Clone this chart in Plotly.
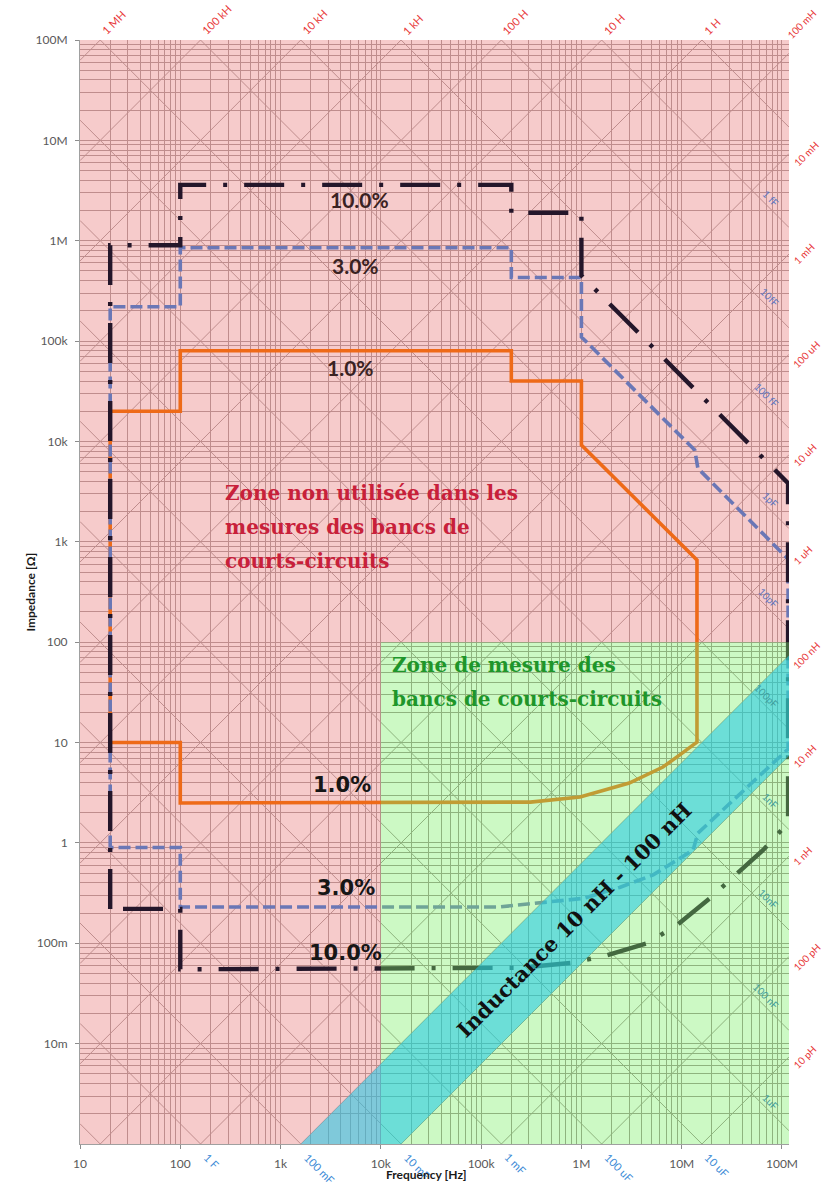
import math
import plotly.graph_objects as go

# ---------------- axes ----------------
X_LOG_RANGE = [1.0, 8.07]
Y_LOG_RANGE = [-3.0, 8.0]
F_MIN = 10 ** X_LOG_RANGE[0]
F_EDGE = 10 ** X_LOG_RANGE[1]
Z_MIN = 10 ** Y_LOG_RANGE[0]
Z_MAX = 10 ** Y_LOG_RANGE[1]

X_TICK_VALS = [1e1, 1e2, 1e3, 1e4, 1e5, 1e6, 1e7, 1e8]
X_TICK_TEXT = ["10", "100", "1k", "10k", "100k", "1M", "10M", "100M"]
Y_TICK_VALS = [1e8, 1e7, 1e6, 1e5, 1e4, 1e3, 1e2, 1e1, 1, 1e-1, 1e-2]
Y_TICK_TEXT = ["100M", "10M", "1M", "100k", "10k", "1k", "100", "10", "1", "100m", "10m"]

# ---------------- accuracy contours (Hz, Ohm) ----------------
F_1PCT = [20, 20, 100, 100, 2.0e5, 2.0e5, 1.0e6, 1.0e6, 1.42e7, 1.42e7, 9.5e6, 6.5e6,
          3.0e6, 9.7e5, 3.1e5, 100, 100, 20]
Z_1PCT = [10, 2.0e4, 2.0e4, 8.0e4, 8.0e4, 4.0e4, 4.0e4, 9.2e3, 660, 10.1, 7.5, 5.7,
          3.95, 2.87, 2.55, 2.5, 10, 10]

F_3PCT = [20, 20, 100, 100, 2.0e5, 2.0e5, 1.0e6, 1.0e6, 1.35e7, 1.45e7, 1.15e8, 1.15e8,
          1.45e7, 1.3e7, 5.2e6, 2.4e6, 1.04e6, 1.5e5, 100, 100, 20]
Z_3PCT = [0.9, 2.2e5, 2.2e5, 8.5e5, 8.5e5, 4.3e5, 4.3e5, 1.1e5, 8.2e3, 5.4e3, 675, 8.6,
          1.25, 0.85, 0.48, 0.36, 0.28, 0.23, 0.23, 0.9, 0.9]

F_10PCT = [20, 20, 100, 100, 2.0e5, 2.0e5, 1.0e6, 1.0e6, 1.15e8, 1.15e8, 6.5e7, 3.2e7,
           1.9e7, 9.0e6, 4.5e6, 1.8e6, 8.2e5, 2.4e5, 100, 100, 20]
Z_10PCT = [0.22, 9.0e5, 9.0e5, 3.6e6, 3.6e6, 1.9e6, 1.9e6, 4.5e5, 3.84e3, 1.58, 0.85, 0.45,
           0.28, 0.152, 0.10, 0.076, 0.064, 0.057, 0.055, 0.22, 0.22]

# ---------------- zones ----------------
MEAS_ZONE_F = [1e4, F_EDGE]     # measurement zone: f >= 10 kHz
MEAS_ZONE_Z = [Z_MIN, 100]      # and |Z| <= 100 Ohm
BAND_L = [10e-9, 100e-9]        # inductance band 10 nH - 100 nH

# ---------------- iso L / iso C reference lines ----------------
L_LINES = [10.0 ** k for k in range(-12, 7)]
C_LINES = [10.0 ** k for k in range(-17, 2)]

L_TOP_VALS = [1e6, 1e5, 1e4, 1e3, 1e2, 1e1, 1, 0.1]
L_TOP_TEXT = ["1 MH", "100 kH", "10 kH", "1 kH", "100 H", "10 H", "1 H", "100 mH"]
L_RIGHT_VALS = [1e-2, 1e-3, 1e-4, 1e-5, 1e-6, 1e-7, 1e-8, 1e-9, 1e-10, 1e-11]
L_RIGHT_TEXT = ["10 mH", "1 mH", "100 uH", "10 uH", "1 uH", "100 nH", "10 nH", "1 nH", "100 pH", "10 pH"]
C_BOTTOM_VALS = [1, 0.1, 0.01, 1e-3, 1e-4, 1e-5]
C_BOTTOM_TEXT = ["1 F", "100 mF", "10 mF", "1 mF", "100 uF", "10 uF"]
C_RIGHT_VALS = [1e-15, 1e-14, 1e-13, 1e-12, 1e-11, 1e-10, 1e-9, 1e-8, 1e-7, 1e-6]
C_RIGHT_TEXT = ["1 fF", "10fF", "100 fF", "1pF", "10pF", "100pF", "1nF", "10nF", "100 nF", "1uF"]

# ---------------- styles ----------------
GRID = "rgb(155,142,142)"
PINK = "rgba(236,140,140,0.45)"
GREEN = "rgba(120,240,100,0.38)"
BAND = "rgba(30,200,232,0.55)"
ORANGE = "#EE6A18"
BLUE = "#6A77B6"
DARK = "#24162A"
TWO_PI = 2 * math.pi


def z_ind(f, L):
    return TWO_PI * f * L


def z_cap(f, C):
    return 1.0 / (TWO_PI * f * C)


fig = go.Figure()

# iso-inductance and iso-capacitance lines
lx, ly = [], []
for L in L_LINES:
    lx += [F_MIN, F_EDGE, None]
    ly += [z_ind(F_MIN, L), z_ind(F_EDGE, L), None]
cx, cy = [], []
for C in C_LINES:
    cx += [F_MIN, F_EDGE, None]
    cy += [z_cap(F_MIN, C), z_cap(F_EDGE, C), None]
for xs, ys in ((lx, ly), (cx, cy)):
    fig.add_trace(go.Scatter(x=xs, y=ys, mode="lines", line=dict(color=GRID, width=1),
                             hoverinfo="skip", showlegend=False))

# pink "unused" zone (everything outside the measurement zone)
fig.add_trace(go.Scatter(
    x=[F_MIN, MEAS_ZONE_F[0], MEAS_ZONE_F[0], MEAS_ZONE_F[1], MEAS_ZONE_F[1], F_MIN],
    y=[Z_MIN, Z_MIN, MEAS_ZONE_Z[1], MEAS_ZONE_Z[1], Z_MAX, Z_MAX],
    mode="lines", fill="toself", fillcolor=PINK, line=dict(width=0),
    hoverinfo="skip", showlegend=False))

# accuracy contours
fig.add_trace(go.Scatter(x=F_1PCT, y=Z_1PCT, mode="lines",
                         line=dict(color=ORANGE, width=3.6), hoverinfo="skip", showlegend=False))
fig.add_trace(go.Scatter(x=F_3PCT, y=Z_3PCT, mode="lines",
                         line=dict(color=BLUE, width=3.6, dash="12px,5px"),
                         hoverinfo="skip", showlegend=False))
fig.add_trace(go.Scatter(x=F_10PCT, y=Z_10PCT, mode="lines",
                         line=dict(color=DARK, width=4.4, dash="40px,17px,4px,17px"),
                         hoverinfo="skip", showlegend=False))

# green measurement zone overlay
fig.add_trace(go.Scatter(
    x=[MEAS_ZONE_F[0], MEAS_ZONE_F[1], MEAS_ZONE_F[1], MEAS_ZONE_F[0]],
    y=[MEAS_ZONE_Z[0], MEAS_ZONE_Z[0], MEAS_ZONE_Z[1], MEAS_ZONE_Z[1]],
    mode="lines", fill="toself", fillcolor=GREEN, line=dict(width=0),
    hoverinfo="skip", showlegend=False))

# inductance band 10 nH - 100 nH
f_hi_start = Z_MIN / (TWO_PI * BAND_L[1])
f_lo_start = Z_MIN / (TWO_PI * BAND_L[0])
fig.add_trace(go.Scatter(
    x=[f_hi_start, F_EDGE, F_EDGE, f_lo_start],
    y=[Z_MIN, z_ind(F_EDGE, BAND_L[1]), z_ind(F_EDGE, BAND_L[0]), Z_MIN],
    mode="lines", fill="toself", fillcolor=BAND, line=dict(width=0),
    hoverinfo="skip", showlegend=False))

ann = []
# inductance labels on top
for v, t in zip(L_TOP_VALS, L_TOP_TEXT):
    f = Z_MAX / (TWO_PI * v)
    if f < F_EDGE:
        ann.append(dict(x=math.log10(f), y=1, xref="x", yref="paper", text=t, showarrow=False,
                        textangle=-45, xanchor="left", yanchor="bottom", xshift=-4, yshift=0,
                        font=dict(color="#E8393A", family="Lato", size=11)))
    else:
        ann.append(dict(x=1, y=1, xref="paper", yref="paper", text=t, showarrow=False,
                        textangle=-45, xanchor="left", yanchor="bottom", xshift=-7, yshift=-4,
                        font=dict(color="#E8393A", family="Lato", size=10)))
# inductance labels on right
for v, t in zip(L_RIGHT_VALS, L_RIGHT_TEXT):
    ann.append(dict(x=1, y=math.log10(z_ind(F_EDGE, v)), xref="paper", yref="y", text=t,
                    showarrow=False, textangle=-45, xanchor="left", yanchor="middle", xshift=-1,
                    font=dict(color="#E8393A", family="Lato", size=10)))
# capacitance labels on bottom
for v, t in zip(C_BOTTOM_VALS, C_BOTTOM_TEXT):
    f = 1.0 / (TWO_PI * Z_MIN * v)
    ann.append(dict(x=math.log10(f), y=0, xref="x", yref="paper", text=t, showarrow=False,
                    textangle=45, xanchor="left", yanchor="top", xshift=-2, yshift=-4,
                    font=dict(color="#3B8AD6", family="Lato", size=11)))
# capacitance labels inside right edge
for v, t in zip(C_RIGHT_VALS, C_RIGHT_TEXT):
    z = z_cap(F_EDGE, v)
    col = "#3E9C9C" if z < MEAS_ZONE_Z[1] else "#5A74C0"
    ann.append(dict(x=1, y=math.log10(z), xref="paper", yref="y", text=t, showarrow=False,
                    textangle=45, xanchor="right", yanchor="bottom", xshift=-5, yshift=16,
                    font=dict(color=col, family="Lato", size=10)))

# zone texts
RED_LINES = ["Zone non utilisée dans les", "mesures des bancs de", "courts-circuits"]
RED_Y = [3.486, 3.147, 2.809]
for t, y in zip(RED_LINES, RED_Y):
    ann.append(dict(x=2.426, y=y, text="<b>%s</b>" % t, showarrow=False, xanchor="left",
                    yanchor="middle", font=dict(family="DejaVu Serif", size=20, color="#C8203A")))
GREEN_LINES = ["Zone de mesure des", "bancs de courts-circuits"]
GREEN_Y = [1.772, 1.434]
for t, y in zip(GREEN_LINES, GREEN_Y):
    ann.append(dict(x=4.091, y=y, text="<b>%s</b>" % t, showarrow=False, xanchor="left",
                    yanchor="middle", font=dict(family="DejaVu Serif", size=20, color="#1E962A")))
ann.append(dict(x=5.935, y=-0.768, text="<b>Inductance 10 nH - 100 nH</b>", showarrow=False,
                textangle=-45, xanchor="center", yanchor="middle",
                font=dict(family="DejaVu Serif", size=21, color="#111111")))

# accuracy labels
UP_LABELS = [("10.0%", 3.792, 6.406), ("3.0%", 3.752, 5.758), ("1.0%", 3.702, 4.732)]
for t, x, y in UP_LABELS:
    ann.append(dict(x=x, y=y, text="<b>%s</b>" % t, showarrow=False,
                    font=dict(family="Lato", size=21, color="#3A2222")))
LOW_LABELS = [("1.0%", 3.612, 0.577), ("3.0%", 3.652, -0.45), ("10.0%", 3.652, -1.097)]
for t, x, y in LOW_LABELS:
    ann.append(dict(x=x, y=y, text="<b>%s</b>" % t, showarrow=False,
                    font=dict(family="DejaVu Sans", size=21, color="#161616")))

# axis titles
ann.append(dict(x=(426 - 80) / 709, y=(1144 - 1184) / 1104, xref="paper", yref="paper",
                text="<b>Frequency [Hz]</b>", showarrow=False,
                font=dict(family="Lato", size=12, color="#1a1a1a")))
ann.append(dict(x=(20 - 80) / 709, y=0.5, xref="paper", yref="paper",
                text="<b>Impedance [Ω]</b>", showarrow=False, textangle=-90,
                font=dict(family="Lato", size=12, color="#1a1a1a")))

axis_common = dict(type="log", showgrid=True, gridcolor=GRID, gridwidth=1,
                   minor=dict(dtick="D1", showgrid=True, gridcolor=GRID, gridwidth=1),
                   ticks="outside", ticklen=4, tickcolor="#8c8c8c",
                   showline=True, linecolor="#a0a0a0", linewidth=1, zeroline=False,
                   tickfont=dict(family="Lato", size=12, color="#595959"),
                   ticklabelstandoff=5)

fig.update_layout(
    width=822, height=1195,
    margin=dict(l=80, r=33, t=40, b=51),
    paper_bgcolor="white", plot_bgcolor="white",
    showlegend=False,
    xaxis=dict(range=X_LOG_RANGE, tickmode="array", tickvals=X_TICK_VALS, ticktext=X_TICK_TEXT,
               **axis_common),
    yaxis=dict(range=Y_LOG_RANGE, tickmode="array", tickvals=Y_TICK_VALS, ticktext=Y_TICK_TEXT,
               **axis_common),
    annotations=ann,
)

fig.write_html("out.html", config={"displayModeBar": False},
               post_script="document.body.style.margin='0px';")
